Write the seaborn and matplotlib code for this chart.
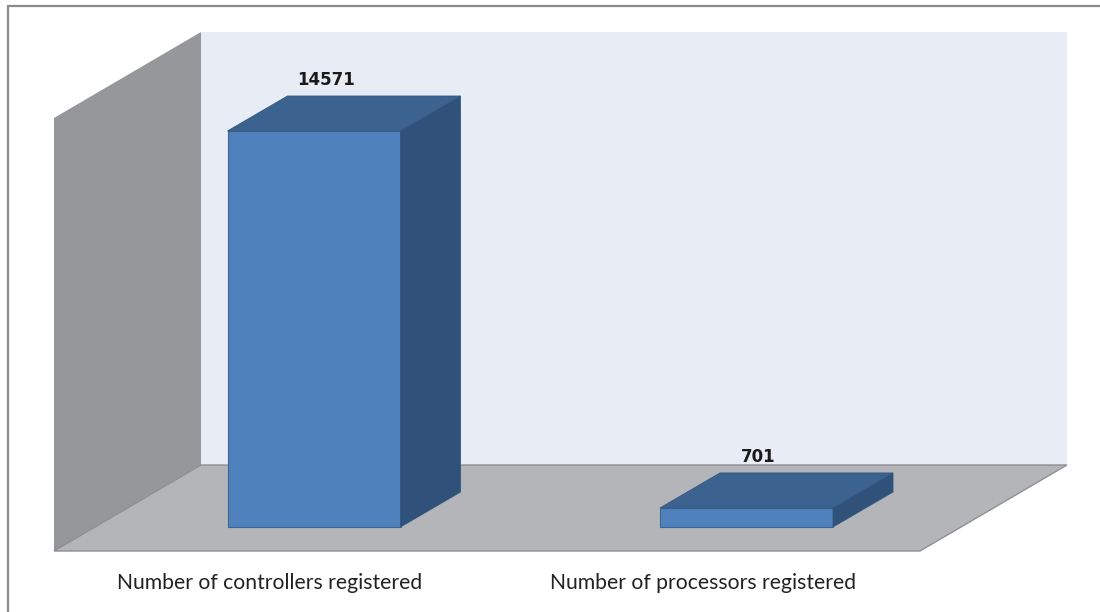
import matplotlib
matplotlib.use("Agg")
import matplotlib.pyplot as plt
import seaborn as sns
import pandas as pd
from matplotlib.patches import Polygon
from matplotlib.lines import Line2D

# ---- data ----
categories = ["Number of controllers registered", "Number of processors registered"]
values = [14571, 701]
value_labels = ["14571", "701"]

W, H = 1100, 612
DPI = 100
sns.set_theme(style="white")
plt.rcParams["font.family"] = ["Lato", "DejaVu Sans"]

fig = plt.figure(figsize=(W / DPI, H / DPI), dpi=DPI)
fig.patch.set_facecolor("white")

def P(x, y):
    """pixel (from top-left) -> figure fraction"""
    return (x / W, 1 - y / H)

def poly(pts, fc, ec="none", lw=0.0, z=0):
    p = Polygon([P(*q) for q in pts], closed=True, transform=fig.transFigure,
                facecolor=fc, edgecolor=ec, linewidth=lw, zorder=z)
    fig.add_artist(p)
    return p

# outer frame
fig.add_artist(Line2D([8 / W, 8 / W], [0, 1 - 6 / H], transform=fig.transFigure,
                      color="#8a8a8a", lw=1.6))
fig.add_artist(Line2D([8 / W, 1], [1 - 6 / H, 1 - 6 / H], transform=fig.transFigure,
                      color="#8a8a8a", lw=1.6))

# walls and floor (3D chart frame)
poly([(201, 32), (1067, 32), (1067, 465), (201, 465)], "#e8ecf5", z=0)
poly([(54, 118), (201, 32), (201, 465), (54, 551)], "#95979a", z=0)
poly([(54, 551), (201, 465), (1067, 465), (920, 551)], "#b3b5b8",
     ec="#8e9093", lw=1.0, z=0)

# axes used for the data scale (covers the whole figure)
ax = fig.add_axes([0, 0, 1, 1])
ax.patch.set_alpha(0)
df = pd.DataFrame({"category": categories, "value": values})
sns.barplot(data=df, x="category", y="value", ax=ax, width=0.4,
            color="#4f81bd", saturation=1, edgecolor="#3d6596", linewidth=0.8,
            zorder=3)

# scale: value 0 at pixel row 527, 14571 at row 131; category centres at px 314 and 746.5
px_per_val = (527 - 131) / 14571.0
ax.set_ylim(-(H - 527) / px_per_val, 527 / px_per_val)
px_per_cat = 746.5 - 314
ax.set_xlim(-314 / px_per_cat, (W - 314) / px_per_cat)
ax.set_axis_off()

fig.canvas.draw()
renderer = fig.canvas.get_renderer()
inv = fig.transFigure.inverted()
DX, DY = 60, 35  # depth offset in pixels (right, up)

for bar, lab in zip(ax.patches, value_labels):
    x0, x1 = bar.get_x(), bar.get_x() + bar.get_width()
    h = bar.get_height()
    (ax0, ay0), (ax1, ay1) = ax.transData.transform([(x0, 0), (x1, h)])
    top = [(ax0, ay1), (ax0 + DX, ay1 + DY), (ax1 + DX, ay1 + DY), (ax1, ay1)]
    side = [(ax1, ay0), (ax1, ay1), (ax1 + DX, ay1 + DY), (ax1 + DX, ay0 + DY)]
    for pts, fc in ((side, "#30527a"), (top, "#3c6290")):
        fpts = inv.transform(pts)
        fig.add_artist(Polygon(fpts, closed=True, transform=fig.transFigure,
                               facecolor=fc, edgecolor="#34577f", linewidth=0.6,
                               zorder=4))
    lx, ly = inv.transform([((ax0 + ax1) / 2 + 12, ay1 + DY + 16)])[0]
    fig.text(lx, ly, lab, ha="center", va="center", fontsize=12,
             fontweight="bold", color="#1a1a1a", family=["DejaVu Sans"])

# category labels (sized to span ~304 px like the reference)
for i, cat in enumerate(categories):
    cx = ax.transData.transform([(i, 0)])[0][0] - 44
    fx = inv.transform([(cx, 0)])[0][0]
    t = fig.text(fx, 1 - 583 / H, cat, ha="center", va="center", fontsize=12,
                 color="#222222")
    wpx = t.get_window_extent(renderer=renderer).width
    t.set_fontsize(12 * 304.0 / wpx)

fig.savefig("out.png", dpi=DPI)
